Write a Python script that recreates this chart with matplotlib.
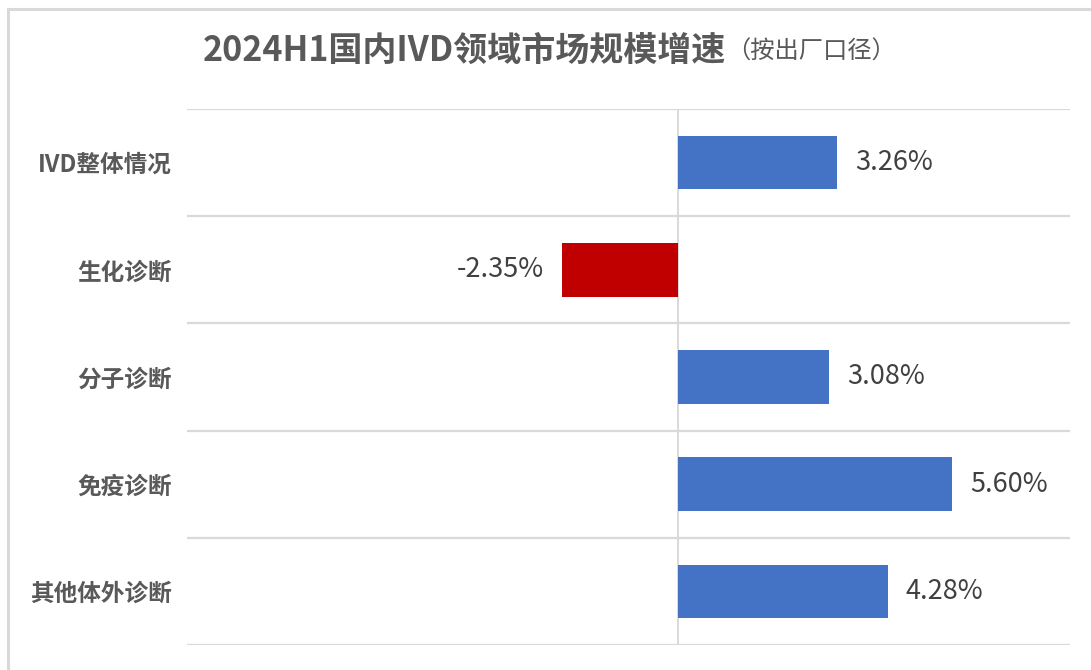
import matplotlib
matplotlib.use("Agg")
import matplotlib.pyplot as plt
from matplotlib.patches import Rectangle

plt.rcParams["font.family"] = ["Noto Sans CJK SC", "DejaVu Sans"]

# data
categories = ["IVD整体情况", "生化诊断", "分子诊断", "免疫诊断", "其他体外诊断"]
growth = [3.26, -2.35, 3.08, 5.60, 4.28]
value_labels = ["3.26%", "-2.35%", "3.08%", "5.60%", "4.28%"]

blue = "#4472C4"
red = "#C00000"
grid_c = "#D9D9D9"
text_c = "#595959"

fig = plt.figure(figsize=(10.91, 6.70), dpi=100)

# outer frame (right/bottom edges fall outside the image)
fig.patches.append(
    Rectangle((8 / 1091, -0.05), 1.1, 1 - 9 / 670 + 0.05,
              transform=fig.transFigure, fill=False,
              edgecolor="#D9D9D9", linewidth=2.2)
)

ax = fig.add_axes([187 / 1091, 1 - 645 / 670, (1070 - 187) / 1091, (645 - 109) / 670])

y = list(range(len(categories)))
colors = [blue if v >= 0 else red for v in growth]
ax.barh(y, growth, height=0.5, color=colors, zorder=3)

ax.set_xlim(-10, 8)
ax.set_ylim(len(categories) - 0.5, -0.5)

# category separators and zero line
for k in range(len(categories) + 1):
    ax.axhline(k - 0.5, color=grid_c, linewidth=1.6, zorder=1)
ax.axvline(0, color=grid_c, linewidth=1.4, zorder=2)

for s in ax.spines.values():
    s.set_visible(False)
ax.set_xticks([])
ax.set_yticks(y)
ax.set_yticklabels(categories, fontsize=17, fontweight="bold", color=text_c)
ax.tick_params(axis="y", length=0, pad=11)

for yi, v, lab in zip(y, growth, value_labels):
    ax.annotate(lab, (v, yi), xytext=(13 if v >= 0 else -13, 0),
                textcoords="offset points",
                ha="left" if v >= 0 else "right", va="center",
                fontsize=19.5, color="#404040")

# title with smaller note placed right after it
title = fig.text(203 / 1091, 1 - 50 / 670, "2024H1国内IVD领域市场规模增速",
                 fontsize=24.5, fontweight="bold", color=text_c,
                 ha="left", va="center")
fig.canvas.draw()
bb = title.get_window_extent(fig.canvas.get_renderer())
fig.text(bb.x1 / fig.bbox.width, 1 - 52 / 670, "（按出厂口径）",
         fontsize=17.5, color=text_c, ha="left", va="center")

fig.savefig("out.png", dpi=100)
